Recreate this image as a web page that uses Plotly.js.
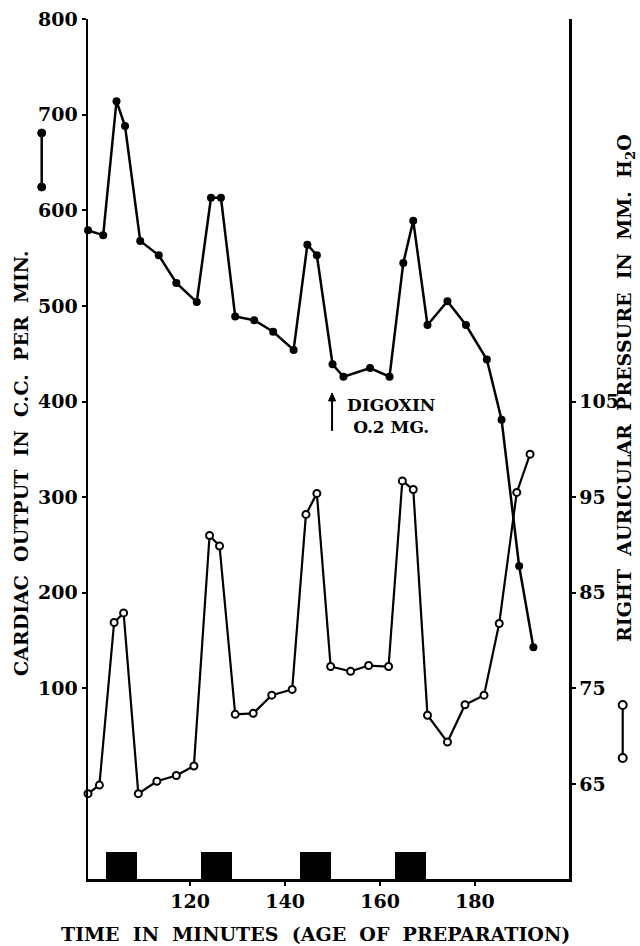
<!DOCTYPE html>
<html>
<head>
<meta charset="utf-8">
<script src="https://cdn.plot.ly/plotly-3.0.1.min.js"></script>
<style>html,body{margin:0;padding:0;background:#fff;}#chart{width:640px;height:946px;}</style>
</head>
<body>
<div id="chart"></div>
<script>
// Cardiac output (c.c. per min) - filled circles, left axis
const timeCO = [98.5, 101.7, 104.5, 106.3, 109.5, 113.4, 117.1, 121.4, 124.4, 126.5, 129.5, 133.5, 137.5, 141.8, 144.7, 146.7, 150.0, 152.3, 157.9, 162.0, 164.9, 167.0, 170.0, 174.2, 178.1, 182.5, 185.6, 189.3, 192.3];
const cardiacOutput = [579, 574, 714, 688, 568, 553, 524, 504, 613, 613, 489, 485, 473, 454, 564, 553, 439, 426, 435, 426, 545, 589, 480, 505, 480, 444, 381, 228, 143];

// Right auricular pressure (mm H2O) - open circles, right axis
const timeRAP = [98.5, 100.9, 104.0, 106.0, 109.1, 113.0, 117.1, 120.8, 124.1, 126.2, 129.5, 133.3, 137.2, 141.5, 144.4, 146.7, 149.6, 153.8, 157.6, 161.8, 164.7, 167.0, 170.0, 174.2, 177.9, 181.9, 185.1, 188.8, 191.6];
const auricularPressure = [64.0, 64.9, 81.9, 82.9, 64.0, 65.3, 65.9, 66.9, 91.0, 89.9, 72.3, 72.4, 74.3, 74.9, 93.2, 95.4, 77.3, 76.8, 77.4, 77.3, 96.7, 95.8, 72.2, 69.4, 73.3, 74.3, 81.8, 95.5, 99.5];

// Black period markers along the time axis (start / end, minutes)
const periodStart = [102.3, 122.3, 143.2, 163.2];
const periodEnd   = [108.8, 128.8, 149.7, 169.6];

// Tick labels
const xTicks = [120, 140, 160, 180];
const yLeftTicks = [100, 200, 300, 400, 500, 600, 700, 800];
const yRightTicks = [65, 75, 85, 95, 105];

// Digoxin dose
const digoxinTime = 149.9;
const digoxinValue = 408;
const digoxinLabel = "<b>DIGOXIN</b><br><b>O.2 MG.</b>";

const FONT = "DejaVu Serif";
const yLeftRange = [-99.2, 800];
const yRightRange = [65 + yLeftRange[0] / 10, 65 + yLeftRange[1] / 10];
const gap = "\u00a0\u00a0";
const sp = (words) => "<b>" + words.join(gap) + "</b>";
const bold = (v) => "<b>" + v + "</b>";

const periodCenters = periodStart.map((s, i) => (s + periodEnd[i]) / 2);
const periodWidths = periodStart.map((s, i) => periodEnd[i] - s);
const barHeight = 28.2;

const traces = [
  {
    type: "bar",
    x: periodCenters,
    y: periodCenters.map(() => barHeight),
    base: periodCenters.map(() => yLeftRange[0]),
    width: periodWidths,
    marker: {color: "#000", line: {width: 0}},
    yaxis: "y",
    showlegend: false,
    hoverinfo: "skip"
  },
  {
    type: "scatter",
    mode: "lines+markers",
    x: timeCO,
    y: cardiacOutput,
    yaxis: "y",
    line: {color: "#000", width: 2.5},
    marker: {color: "#000", size: 8, symbol: "circle"},
    cliponaxis: false,
    showlegend: false
  },
  {
    type: "scatter",
    mode: "lines+markers",
    x: timeRAP,
    y: auricularPressure,
    yaxis: "y2",
    line: {color: "#000", width: 2.2},
    marker: {color: "#fff", size: 7, symbol: "circle", line: {color: "#000", width: 2}},
    cliponaxis: false,
    showlegend: false
  }
];

const L = 88, R = 569, T = 19, B = 879;
const px = (x) => (x - L) / (R - L);
const py = (y) => (B - y) / (B - T);

const shapes = [
  // left key: filled circles joined by line
  {type: "line", xref: "paper", yref: "paper", x0: px(41.7), x1: px(41.7), y0: py(133), y1: py(187), line: {color: "#000", width: 2.5}},
  {type: "circle", xref: "paper", yref: "paper", xsizemode: "pixel", ysizemode: "pixel", xanchor: px(41.7), yanchor: py(133), x0: -4, x1: 4, y0: -4, y1: 4, fillcolor: "#000", line: {color: "#000", width: 1}},
  {type: "circle", xref: "paper", yref: "paper", xsizemode: "pixel", ysizemode: "pixel", xanchor: px(41.7), yanchor: py(187), x0: -4, x1: 4, y0: -4, y1: 4, fillcolor: "#000", line: {color: "#000", width: 1}},
  // right key: open circles joined by line
  {type: "line", xref: "paper", yref: "paper", x0: px(622.7), x1: px(622.7), y0: py(705), y1: py(758), line: {color: "#000", width: 2.2}},
  {type: "circle", xref: "paper", yref: "paper", xsizemode: "pixel", ysizemode: "pixel", xanchor: px(622.7), yanchor: py(705), x0: -4, x1: 4, y0: -4, y1: 4, fillcolor: "#fff", line: {color: "#000", width: 2}},
  {type: "circle", xref: "paper", yref: "paper", xsizemode: "pixel", ysizemode: "pixel", xanchor: px(622.7), yanchor: py(758), x0: -4, x1: 4, y0: -4, y1: 4, fillcolor: "#fff", line: {color: "#000", width: 2}},
  // digoxin arrow: shaft and head, anchored at the dose time
  {type: "path", xref: "x", yref: "y", xsizemode: "pixel", ysizemode: "pixel", xanchor: digoxinTime, yanchor: digoxinValue,
   path: "M0,-37 L0,-2", line: {color: "#000", width: 2}},
  {type: "path", xref: "x", yref: "y", xsizemode: "pixel", ysizemode: "pixel", xanchor: digoxinTime, yanchor: digoxinValue,
   path: "M-3.5,-7 L0,1 L3.5,-7 Z", fillcolor: "#000", line: {color: "#000", width: 1}}
];

const annotations = [
  {
    xref: "paper", yref: "paper", x: px(21), y: py(463),
    text: sp(["CARDIAC", "OUTPUT", "IN", "C.C.", "PER", "MIN."]),
    textangle: -90, showarrow: false, xanchor: "center", yanchor: "middle",
    font: {family: FONT, size: 19, color: "#000"}
  },
  {
    xref: "paper", yref: "paper", x: px(626), y: py(388),
    text: sp(["RIGHT", "AURICULAR", "PRESSURE", "IN", "MM.", "H<sub>2</sub>O"]),
    textangle: -90, showarrow: false, xanchor: "center", yanchor: "middle",
    font: {family: FONT, size: 19, color: "#000"}
  },
  {
    xref: "paper", yref: "paper", x: px(315), y: py(934),
    text: sp(["TIME", "IN", "MINUTES", "(AGE", "OF", "PREPARATION)"]),
    showarrow: false, xanchor: "center", yanchor: "middle",
    font: {family: FONT, size: 19, color: "#000"}
  },
  {
    x: 162.3, y: 385, xref: "x", yref: "y",
    text: digoxinLabel, showarrow: false, align: "center",
    xanchor: "center", yanchor: "middle",
    font: {family: FONT, size: 17, color: "#000"}
  }
];

const axisCommon = {
  showline: true, linecolor: "#000", linewidth: 2.5,
  ticks: "outside", ticklen: 4, tickwidth: 2, tickcolor: "#000",
  showgrid: false, zeroline: false, fixedrange: true,
  tickfont: {family: FONT, size: 19, color: "#000"}
};

const layout = {
  width: 640, height: 946,
  margin: {l: L, r: 640 - R, t: T, b: 946 - B, pad: 0},
  paper_bgcolor: "#fff", plot_bgcolor: "#fff",
  font: {family: FONT, size: 19, color: "#000"},
  showlegend: false,
  bargap: 0,
  xaxis: Object.assign({}, axisCommon, {
    range: [98.5, 199.8], tickvals: xTicks, ticktext: xTicks.map(bold)
  }),
  yaxis: Object.assign({}, axisCommon, {
    range: yLeftRange, tickvals: yLeftTicks, ticktext: yLeftTicks.map(bold)
  }),
  yaxis2: Object.assign({}, axisCommon, {
    range: yRightRange, overlaying: "y", side: "right", anchor: "x",
    tickvals: yRightTicks, ticktext: yRightTicks.map(bold)
  }),
  shapes: shapes,
  annotations: annotations
};

Plotly.newPlot("chart", traces, layout, {staticPlot: true, displayModeBar: false});
</script>
</body>
</html>
